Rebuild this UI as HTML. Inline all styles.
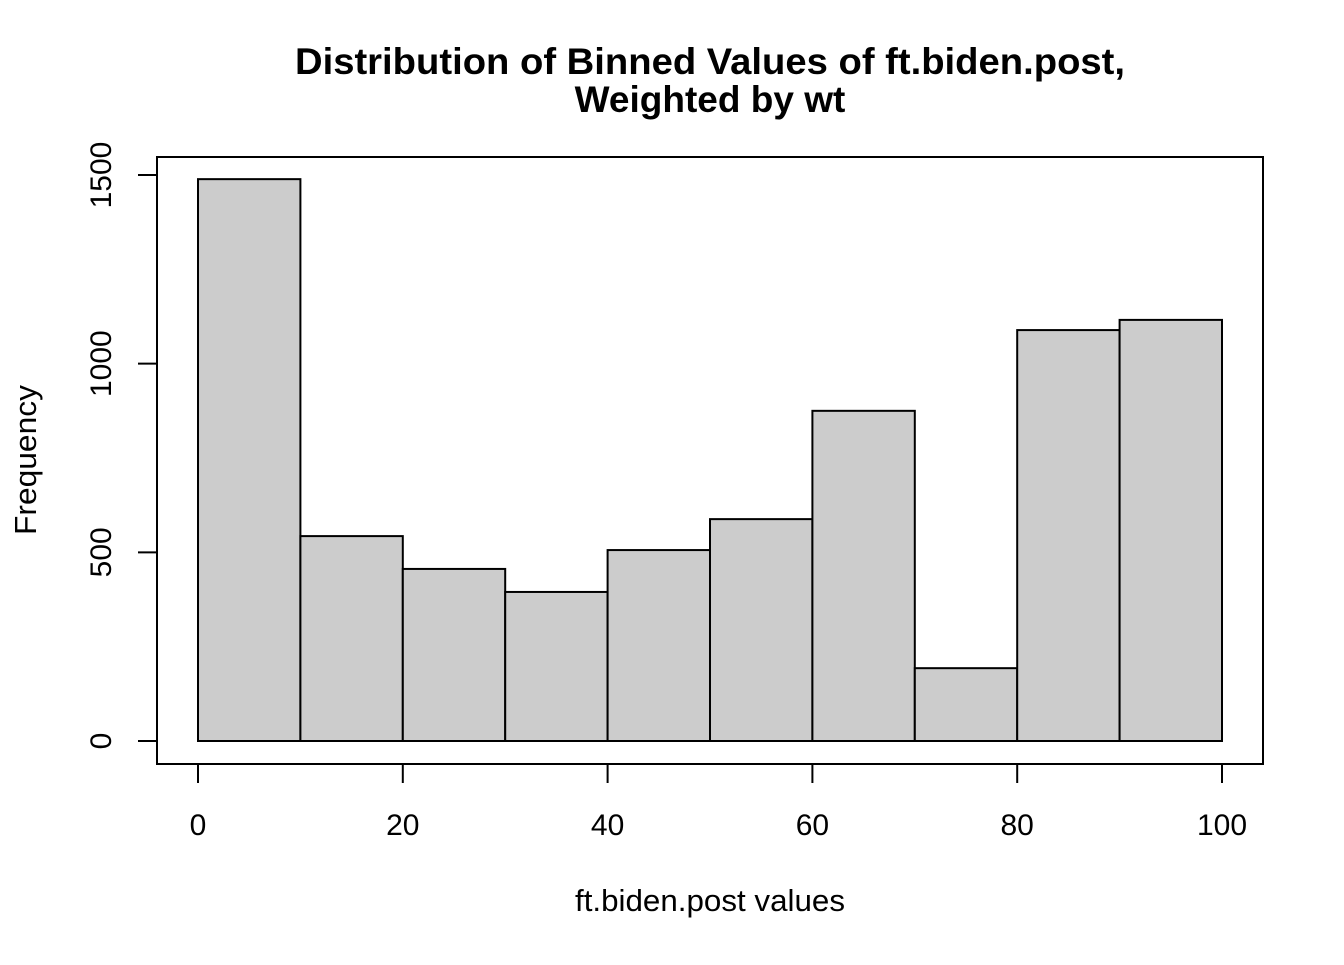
<!DOCTYPE html>
<html><head><meta charset="utf-8"><style>
body{margin:0;background:#fff;}
svg text{font-family:"Liberation Sans",Arial,sans-serif;fill:#000;}
</style></head><body>
<svg id="chart" width="1344" height="960" viewBox="0 0 1344 960">
<rect width="1344" height="960" fill="#fff"/>
<text x="710" y="74" text-anchor="middle" font-size="37" font-weight="bold" textLength="830" lengthAdjust="spacingAndGlyphs">Distribution of Binned Values of ft.biden.post,</text>
<text x="710" y="112" text-anchor="middle" font-size="37" font-weight="bold">Weighted by wt</text>
<rect x="157" y="157" width="1106" height="607" fill="none" stroke="#000" stroke-width="2"/>
<g id="bars"></g>
<g id="xaxis"></g>
<g id="yaxis"></g>
<text x="710" y="911" text-anchor="middle" font-size="31" textLength="270" lengthAdjust="spacingAndGlyphs">ft.biden.post values</text>
<text transform="translate(36,460) rotate(-90)" text-anchor="middle" font-size="31" textLength="150" lengthAdjust="spacingAndGlyphs">Frequency</text>
</svg>
<script>
const binEdges=[0,10,20,30,40,50,60,70,80,90,100];
const counts=[1489,543,456,395,506,588,875,193,1089,1116];
const xTicks=[0,20,40,60,80,100];
const yTicks=[0,500,1000,1500];
const NS="http://www.w3.org/2000/svg";
const X=v=>198+v*10.24;
const Y=v=>741-v*566/1500;
function mk(t,a,p){const e=document.createElementNS(NS,t);for(const k in a)e.setAttribute(k,a[k]);p.appendChild(e);return e;}
const bars=document.getElementById('bars');
counts.forEach((c,i)=>{
 const r=mk('rect',{x:X(binEdges[i]),y:Y(c),width:X(binEdges[i+1])-X(binEdges[i]),height:Y(0)-Y(c),fill:'#cccccc',stroke:'#000','stroke-width':2},bars);
 
 
});
const xa=document.getElementById('xaxis');
mk('line',{x1:X(xTicks[0]),x2:X(xTicks[xTicks.length-1]),y1:764,y2:764,stroke:'#000','stroke-width':2},xa);
xTicks.forEach(t=>{
 mk('line',{x1:X(t),x2:X(t),y1:764,y2:783,stroke:'#000','stroke-width':2},xa);
 const tx=mk('text',{x:X(t),y:835,'text-anchor':'middle','font-size':30},xa);
 tx.textContent=t;
 
 
});
const ya=document.getElementById('yaxis');
mk('line',{x1:157,x2:157,y1:Y(yTicks[0]),y2:Y(yTicks[yTicks.length-1]),stroke:'#000','stroke-width':2},ya);
yTicks.forEach(t=>{
 mk('line',{x1:138,x2:157,y1:Y(t),y2:Y(t),stroke:'#000','stroke-width':2},ya);
 const tx=mk('text',{transform:`translate(111,${Y(t)}) rotate(-90)`,'text-anchor':'middle','font-size':30},ya);
 tx.textContent=t;
 
 
});
</script>
</body></html>
